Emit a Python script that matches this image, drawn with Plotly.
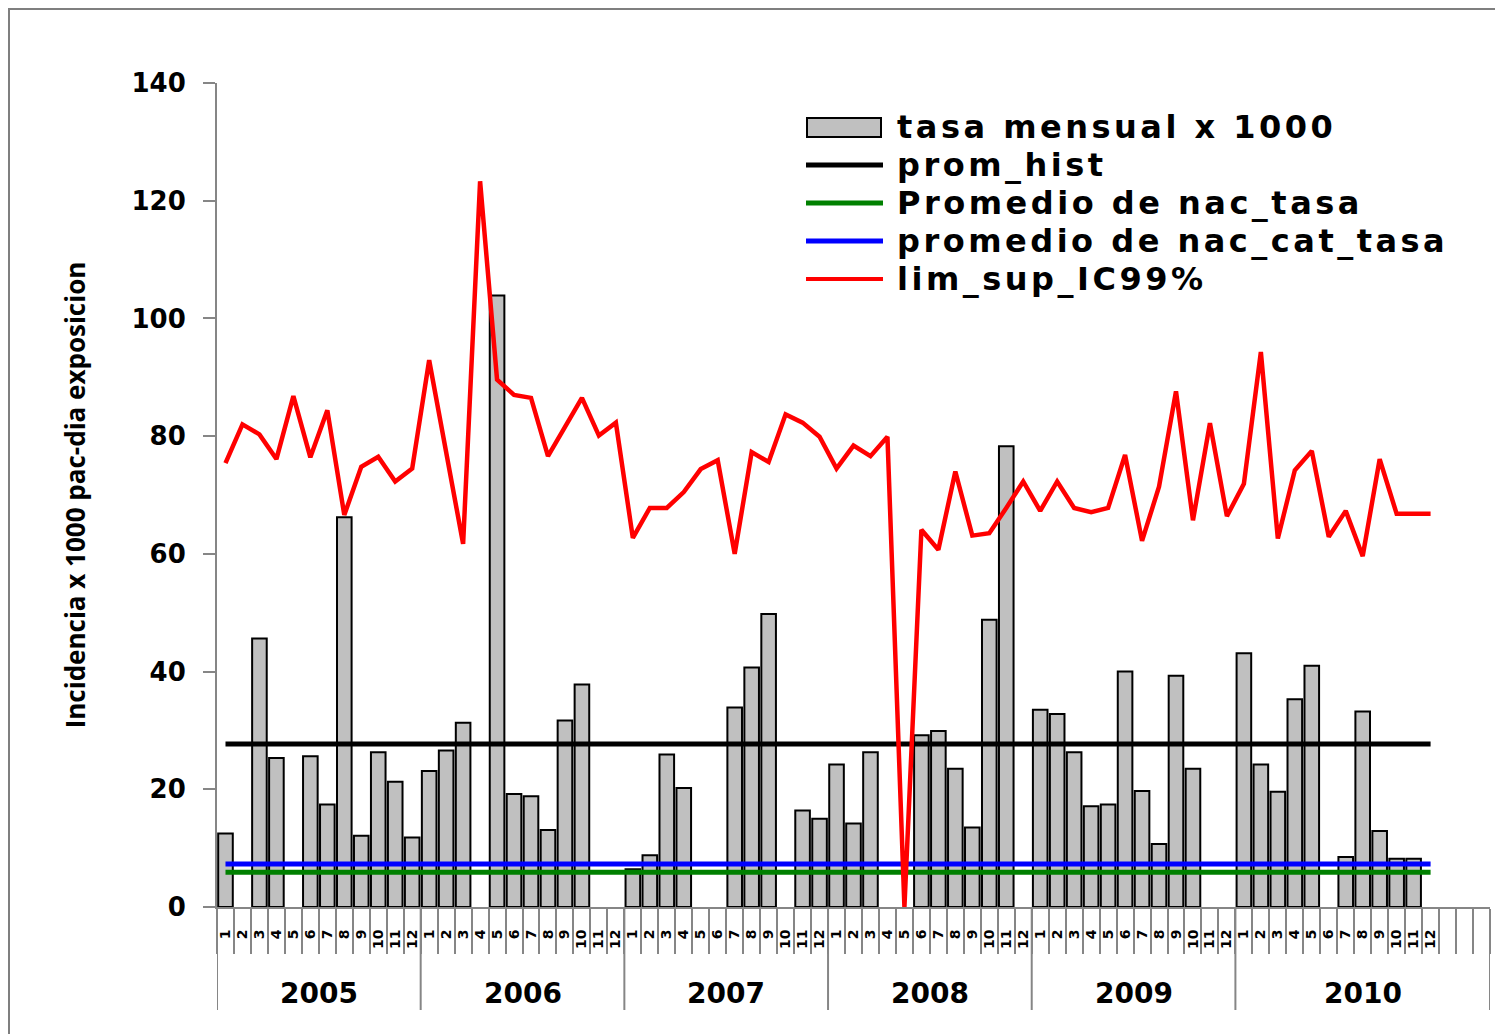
import plotly.graph_objects as go

# ---------------- data ----------------
years = ["2005", "2006", "2007", "2008", "2009", "2010"]
month_labels = [str(m) for m in range(1, 13)]
extra_slots_2010 = 3  # empty trailing slots in the 2010 group

tasa_2005 = [12.5, None, 45.6, 25.3, None, 25.6, 17.4, 66.2, 12.1, 26.3, 21.3, 11.8]
tasa_2006 = [23.1, 26.6, 31.3, None, 103.9, 19.2, 18.8, 13.1, 31.7, 37.8, None, None]
tasa_2007 = [6.4, 8.8, 25.9, 20.2, None, None, 33.9, 40.7, 49.8, None, 16.4, 15.0]
tasa_2008 = [24.2, 14.2, 26.3, None, None, 29.2, 29.9, 23.5, 13.5, 48.8, 78.3, None]
tasa_2009 = [33.5, 32.8, 26.3, 17.1, 17.4, 40.0, 19.7, 10.7, 39.3, 23.5, None, None]
tasa_2010 = [43.1, 24.2, 19.6, 35.3, 41.0, None, 8.5, 33.2, 12.9, 8.2, 8.2, None]

lim_2005 = [75.4, 82.0, 80.3, 76.1, 86.8, 76.4, 84.4, 66.6, 74.8, 76.5, 72.3, 74.5]
lim_2006 = [92.9, 77.5, 61.7, 123.3, 89.6, 87.0, 86.5, 76.6, 81.5, 86.5, 80.1, 82.3]
lim_2007 = [62.7, 67.8, 67.8, 70.5, 74.4, 75.9, 60.0, 77.3, 75.6, 83.7, 82.3, 79.9]
lim_2008 = [74.5, 78.4, 76.6, 79.9, 0.0, 64.1, 60.7, 74.0, 63.1, 63.5, 67.8, 72.3]
lim_2009 = [67.3, 72.3, 67.8, 67.1, 67.8, 76.8, 62.2, 71.4, 87.6, 65.7, 82.2, 66.4]
lim_2010 = [71.9, 94.3, 62.6, 74.2, 77.5, 62.9, 67.3, 59.6, 76.1, 66.8, 66.8, 66.8]

prom_hist = 27.7
prom_nac_tasa = 5.9
prom_nac_cat_tasa = 7.3

y_ticks = [0, 20, 40, 60, 80, 100, 120, 140]

legend_names = ["tasa mensual x 1000", "prom_hist", "Promedio de nac_tasa",
                "promedio de nac_cat_tasa", "lim_sup_IC99%"]
y_title = "Incidencia x 1000 pac-dia exposicion"

# ---------------- build ----------------
tasa = tasa_2005 + tasa_2006 + tasa_2007 + tasa_2008 + tasa_2009 + tasa_2010
lim = lim_2005 + lim_2006 + lim_2007 + lim_2008 + lim_2009 + lim_2010

month_cats = [f"{y}-{m}" for y in years for m in month_labels]
extra_cats = [f"2010-extra{i}" for i in range(extra_slots_2010)]
all_cats = month_cats + extra_cats
tick_text = [m for y in years for m in month_labels] + [""] * extra_slots_2010

n_month = len(month_cats)
n_all = len(all_cats)

OFF = 8  # page body margin
W, H = 1503 - OFF, 1034 - OFF
L, R, T = 217 - OFF, 13, 83 - OFF
PH = 824
B = H - T - PH
PW = W - L - R


def xp(px):  # page px -> paper
    return (px - OFF - L) / PW


def yp(py):  # page px -> paper
    return (H - B - (py - OFF)) / PH


BOLD = "DejaVu Sans"
GREY = "#868686"

fig = go.Figure()

fig.add_trace(go.Bar(
    x=all_cats, y=tasa + [None] * extra_slots_2010, name=legend_names[0],
    marker=dict(color="#C0C0C0", line=dict(color="black", width=2)),
    showlegend=False))

for val, nm, col, w in [(prom_hist, legend_names[1], "black", 5),
                        (prom_nac_tasa, legend_names[2], "#008000", 5),
                        (prom_nac_cat_tasa, legend_names[3], "#0000FF", 5)]:
    fig.add_trace(go.Scatter(x=month_cats, y=[val] * n_month, mode="lines", name=nm,
                             line=dict(color=col, width=w), showlegend=False))

fig.add_trace(go.Scatter(x=month_cats, y=lim, mode="lines", name=legend_names[4],
                         line=dict(color="#FF0000", width=4.5), showlegend=False))

shapes = []
annotations = []

# year dividers and labels
start = 0
for i, yr in enumerate(years):
    count = 12 + (extra_slots_2010 if i == len(years) - 1 else 0)
    end = start + count
    if i == 0:
        shapes.append(dict(type="line", xref="x", yref="paper", x0=start - 0.5, x1=start - 0.5,
                           y0=0, y1=yp(1010), line=dict(color=GREY, width=2)))
    shapes.append(dict(type="line", xref="x", yref="paper", x0=end - 0.5, x1=end - 0.5,
                       y0=0, y1=yp(1010), line=dict(color=GREY, width=2)))
    annotations.append(dict(text=yr, xref="x", yref="paper", x=(start + end - 1) / 2,
                            y=yp(993), showarrow=False, xanchor="center", yanchor="middle",
                            font=dict(family=BOLD, size=28, color="black", weight="bold")))
    start = end

# frame edge
shapes += [
    dict(type="line", xref="paper", yref="paper", x0=xp(OFF), x1=xp(1503), y0=yp(OFF + 1),
         y1=yp(OFF + 1), line=dict(color="#7F7F7F", width=2)),
    dict(type="line", xref="paper", yref="paper", x0=xp(OFF + 1), x1=xp(OFF + 1), y0=yp(OFF),
         y1=yp(1034), line=dict(color="#7F7F7F", width=2)),
]

# manual legend
leg_y = [127, 165, 203, 241, 279]
shapes.append(dict(type="rect", xref="paper", yref="paper", x0=xp(807), x1=xp(881),
                   y0=yp(137), y1=yp(118), fillcolor="#C0C0C0", line=dict(color="black", width=2)))
for yy, col, w in [(leg_y[1], "black", 5), (leg_y[2], "#008000", 5),
                   (leg_y[3], "#0000FF", 5), (leg_y[4], "#FF0000", 4)]:
    shapes.append(dict(type="line", xref="paper", yref="paper", x0=xp(806), x1=xp(883),
                       y0=yp(yy), y1=yp(yy), line=dict(color=col, width=w)))
for yy, nm in zip(leg_y, legend_names):
    annotations.append(dict(text=f'<span style="letter-spacing:3.5px">{nm}</span>',
                            xref="paper", yref="paper", x=xp(895), y=yp(yy),
                            xanchor="left", yanchor="middle", showarrow=False,
                            font=dict(family=BOLD, size=32, color="black", weight="bold")))

fig.update_layout(
    width=W, height=H,
    margin=dict(l=L, r=R, t=T, b=B, pad=0),
    paper_bgcolor="white", plot_bgcolor="white",
    bargap=0.14,
    shapes=shapes, annotations=annotations,
    xaxis=dict(type="category", categoryorder="array", categoryarray=all_cats,
               range=[-0.5, n_all - 0.5],
               tickmode="array", tickvals=all_cats, ticktext=tick_text,
               tickson="boundaries", ticks="outside", ticklen=45, tickwidth=2, tickcolor=GREY,
               tickangle=-90, ticklabelstandoff=15,
               tickfont=dict(family=BOLD, size=14, color="black", weight="bold"),
               showline=True, linecolor=GREY, linewidth=2, showgrid=False, zeroline=False),
    yaxis=dict(range=[0, 140], tickmode="array", tickvals=y_ticks,
               ticks="outside", ticklen=12, tickwidth=2, tickcolor=GREY,
               ticklabelstandoff=12,
               tickfont=dict(family=BOLD, size=26, color="black", weight="bold"),
               showline=True, linecolor=GREY, linewidth=2, showgrid=False, zeroline=False,
               title=dict(text=y_title, standoff=38,
                          font=dict(family="Open Sans", size=26, color="black", weight="bold"))),
)

fig.write_html("out.html")
